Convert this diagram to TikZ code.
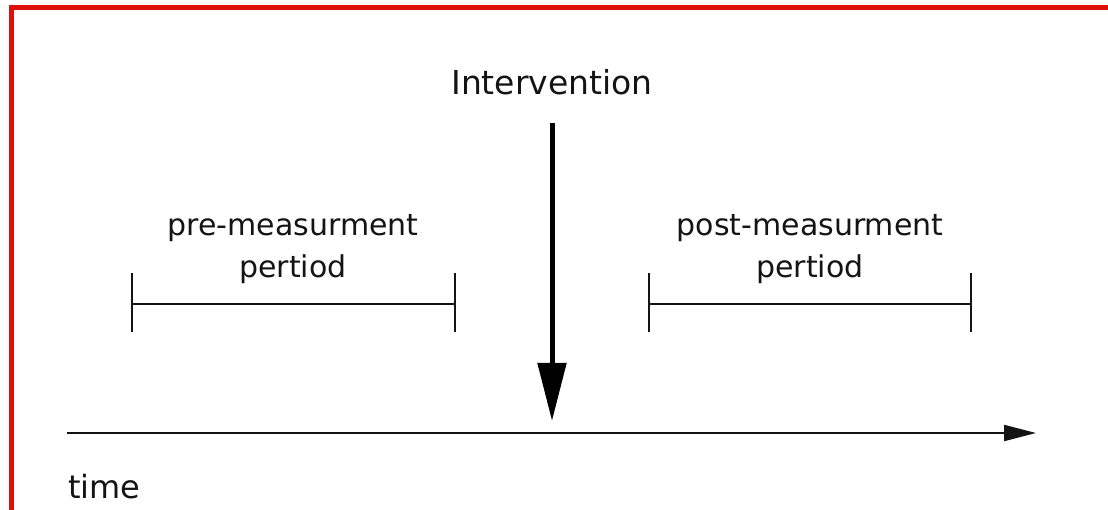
\documentclass[tikz,border=0pt]{standalone}
\usepackage{fontspec}
\setmainfont{DejaVu Sans}
\usetikzlibrary{arrows.meta}
\definecolor{frame}{RGB}{222,16,10}
\definecolor{ink}{RGB}{20,20,20}
\tikzset{
  lbl/.style={text=ink, inner sep=0pt, align=center, font=\fontsize{30}{42}\selectfont},
  bar/.style={draw=ink, line width=2pt},
  tick/.style={draw=ink, line width=2.6pt},
  axis/.style={draw=ink, line width=2pt, -{Triangle[length=32pt,width=16pt]}},
  interv/.style={draw=black, line width=5pt, -{Triangle[length=58pt,width=28pt]}},
}
\begin{document}
\begin{tikzpicture}[x=1pt,y=-1pt]
\useasboundingbox (0,0) rectangle (1108,510);
\fill[white] (0,0) rectangle (1108,510);
% red frame
\fill[frame] (9,5) rectangle (1108,10);
\fill[frame] (9,5) rectangle (14,510);
% texts
\node[lbl, font=\fontsize{33}{40}\selectfont] (intv) at (552,82) {Intervention};
\node[lbl] (pre) at (293,249) {pre-measurment\\pertiod};
\node[lbl] (post) at (810,249) {post-measurment\\pertiod};
\node[lbl, font=\fontsize{32}{40}\selectfont, anchor=west] (time) at (68,487) {time};
% coordinates
\coordinate (ia) at (552,123);
\coordinate (ib) at (552,421);
\coordinate (ta) at (67,433);
\coordinate (tb) at (1036,433);
\coordinate (p1) at (132,304);
\coordinate (p2) at (455,304);
\coordinate (q1) at (649,304);
\coordinate (q2) at (971,304);
% time axis
\draw[axis] (ta) -- (tb);
% intervention arrow
\draw[interv] (ia) -- (ib);
% pre bracket
\draw[bar] (p1) -- (p2);
\draw[tick] ([yshift=-28pt]p1) -- ([yshift=31pt]p1);
\draw[tick] ([yshift=-28pt]p2) -- ([yshift=31pt]p2);
% post bracket
\draw[bar] (q1) -- (q2);
\draw[tick] ([yshift=-28pt]q1) -- ([yshift=31pt]q1);
\draw[tick] ([yshift=-28pt]q2) -- ([yshift=31pt]q2);
\end{tikzpicture}
\end{document}
